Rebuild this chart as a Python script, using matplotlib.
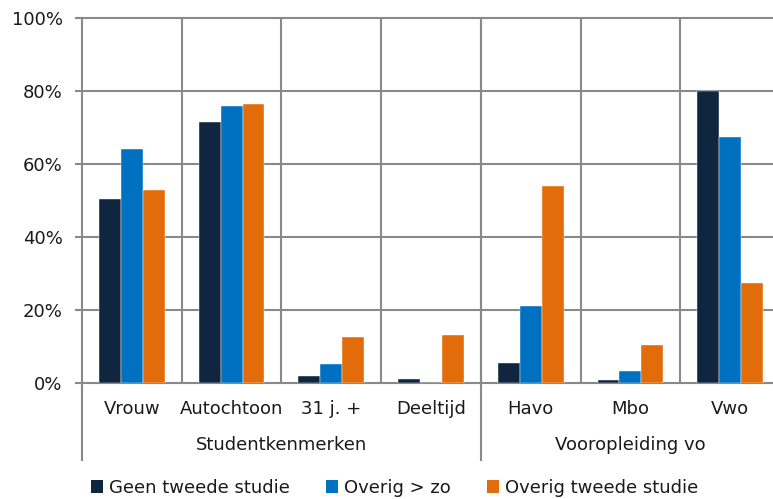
import numpy as np
import matplotlib
matplotlib.use("Agg")
import matplotlib.pyplot as plt
from matplotlib.patches import Patch

categories = ["Vrouw", "Autochtoon", "31 j. +", "Deeltijd", "Havo", "Mbo", "Vwo"]
groups = ["Studentkenmerken", "Vooropleiding vo"]
group_spans = [(0, 4), (4, 7)]
series = ["Geen tweede studie", "Overig > zo", "Overig tweede studie"]
geen = [50.5, 71.5, 1.8, 1.0, 5.5, 0.8, 80.0]
overig_zo = [64.0, 76.0, 5.3, 0.0, 21.0, 3.3, 67.5]
overig_tweede = [53.0, 76.5, 12.6, 13.2, 54.0, 10.3, 27.5]
yticks = [0, 20, 40, 60, 80, 100]

colors = ["#10253F", "#0070C0", "#E36C0A"]
grid_c = "#898989"
fs = 13

fig = plt.figure(figsize=(7.73, 4.99), dpi=100)
W, H = 773, 499
ax = fig.add_axes([82 / W, (H - 383) / H, 698 / W, 365 / H])
ax.set_xlim(0, 7)
ax.set_ylim(0, 100)
for s in ax.spines.values():
    s.set_visible(False)

# grid
for y in yticks:
    ax.plot([-0.06, 7], [y, y], color=grid_c, lw=1.5, clip_on=False, zorder=1)
for x in range(1, 7):
    ax.plot([x, x], [0, 100], color=grid_c, lw=1.5, zorder=1)
# axis line and group separators extend below
for x in [0, 4, 7]:
    ax.plot([x, x], [-21, 100], color=grid_c, lw=1.5, clip_on=False, zorder=1)

xs = np.arange(len(categories)) + 0.5
bw = 0.22
for i, (vals, c) in enumerate(zip([geen, overig_zo, overig_tweede], colors)):
    ax.bar(xs + (i - 1) * bw, vals, width=bw, color=c, edgecolor="white",
           linewidth=0.3, zorder=3)

ax.set_xticks([])
ax.set_yticks(yticks)
ax.set_yticklabels([f"{y}%" for y in yticks], fontsize=fs, color="#1a1a1a")
ax.tick_params(axis="y", length=0, pad=14)

for x, lab in zip(xs, categories):
    ax.text(x, -7, lab, ha="center", va="center", fontsize=fs, color="#1a1a1a")
for (a, b), lab in zip(group_spans, groups):
    ax.text((a + b) / 2, -17, lab, ha="center", va="center", fontsize=fs,
            color="#1a1a1a")

handles = [Patch(facecolor=c, edgecolor="none") for c in colors]
fig.legend(handles, series, loc="center", bbox_to_anchor=(0.51, 0.022), ncol=3,
           frameon=False, fontsize=fs, handlelength=0.7, handleheight=0.7,
           handletextpad=0.3, columnspacing=2.0, labelcolor="#1a1a1a")

fig.savefig("out.png", dpi=100)
